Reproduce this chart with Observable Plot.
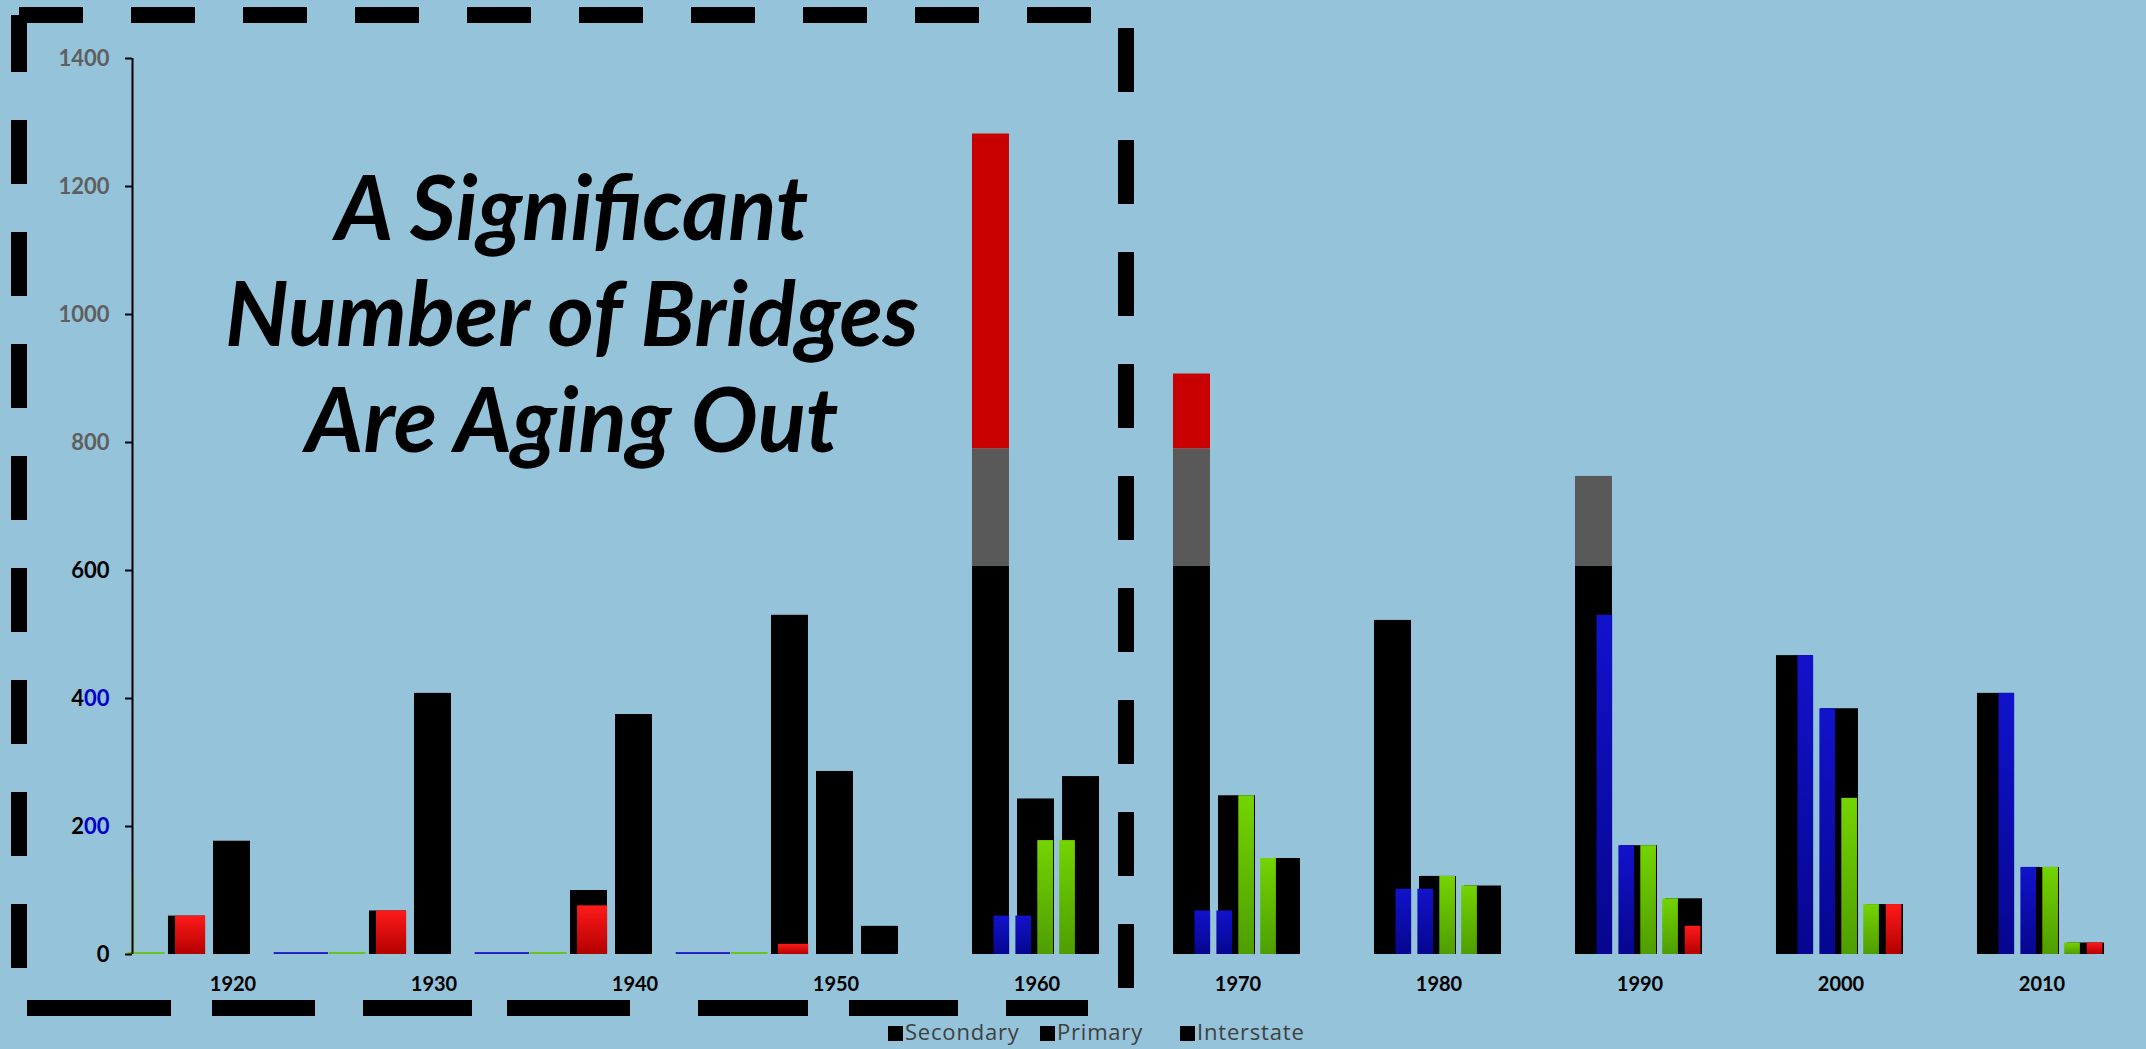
<!DOCTYPE html>
<html>
<head>
<meta charset="utf-8">
<script src="https://cdn.jsdelivr.net/npm/d3@7"></script>
<script src="https://cdn.jsdelivr.net/npm/@observablehq/plot@0.6"></script>
<style>
html, body { margin: 0; padding: 0; background: #94C3DA; width: 2146px; height: 1049px; overflow: hidden; }
#wrap { position: relative; width: 2146px; height: 1049px; }
#chart { position: absolute; left: 0; top: 0; }
#overlay { position: absolute; left: 0; top: 0; pointer-events: none; }
#chart g[aria-label="y-axis tick label"] text { font-size: 22px; font-weight: bold; font-family: Lato, "Open Sans", sans-serif; }
#chart g[aria-label="x-axis tick label"] text { font-size: 20px; font-weight: bold; font-family: Lato, "Open Sans", sans-serif; fill: #000; }
</style>
</head>
<body>
<div id="wrap">
  <div id="chart"></div>
  <svg id="overlay" width="2146" height="1049"></svg>
</div>
<script>
// ---- data ----
const decades = [1920, 1930, 1940, 1950, 1960, 1970, 1980, 1990, 2000, 2010];
const yTicks = [0, 200, 400, 600, 800, 1000, 1200, 1400];

// black clustered bars (legend series)
const secondary    = [60, 68, 100, 530, 607, 607, 522, 607, 467, 408];
const secondaryMid = [0, 0, 0, 0, 183, 183, 0, 140, 0, 0];   // gray segment
const secondaryTop = [0, 0, 0, 0, 492, 117, 0, 0, 0, 0];     // red segment
const primary      = [177, 408, 375, 286, 243, 248, 122, 170, 384, 136];
const interstate   = [0, 0, 0, 44, 278, 150, 107, 87, 78, 18];

// coloured overlay bars
const blueA   = [0, 0, 0, 0, 60, 68, 102, 530, 467, 408];
const blueB   = [0, 0, 0, 0, 60, 68, 102, 170, 384, 136];
const greenA  = [0, 0, 0, 0, 178, 248, 122, 170, 244, 136];
const greenB  = [0, 0, 0, 0, 178, 150, 107, 87, 78, 18];
const redC    = [0, 0, 0, 0, 0, 0, 0, 44, 78, 18];
const redEarly = [60, 68, 76, 16, 0, 0, 0, 0, 0, 0];
const greenSliver = [3, 3, 3, 3, 0, 0, 0, 0, 0, 0];
const greenEdge   = [120, 0, 0, 0, 0, 0, 0, 0, 0, 0];
const blueSliver  = [3, 3, 3, 0, 0, 0, 0, 0, 0, 0];

const titleLines = ["A Significant", "Number of Bridges", "Are Aging Out"];
const legendNames = ["Secondary", "Primary", "Interstate"];

// ---- drawing ----
const idx = decades.map((d, i) => i);
function bars(values, off, w, fill, base) {
  const data = idx.map(i => {
    const b = base ? base[i] : 0;
    return {i, y1: b, y2: b + values[i]};
  }).filter(d => d.y2 > d.y1);
  return Plot.rect(data, {
    x1: d => d.i + off - w / 2,
    x2: d => d.i + off + w / 2,
    y1: "y1", y2: "y2", fill
  });
}
const secMidBase = secondary.map(v => v);
const secTopBase = secondary.map((v, i) => v + secondaryMid[i]);

const defs = () => {
  const svgNS = "http://www.w3.org/2000/svg";
  const g = document.createElementNS(svgNS, "defs");
  g.innerHTML = `
    <linearGradient id="redGrad" x1="0" y1="0" x2="0" y2="1">
      <stop offset="0" stop-color="#FF1A1A"/><stop offset="1" stop-color="#B30000"/>
    </linearGradient>
    <linearGradient id="greenGrad" x1="0" y1="0" x2="0" y2="1">
      <stop offset="0" stop-color="#74D400"/><stop offset="1" stop-color="#4E9E00"/>
    </linearGradient>
    <linearGradient id="blueGrad" x1="0" y1="0" x2="0" y2="1">
      <stop offset="0" stop-color="#1212CC"/><stop offset="1" stop-color="#06068F"/>
    </linearGradient>`;
  return g;
};

const slotW = 0.184, cw = 0.078;
const plot = Plot.plot({
  width: 2146,
  height: 1010,
  marginLeft: 132,
  marginRight: 4,
  marginTop: 58,
  marginBottom: 56,
  style: {background: "transparent", overflow: "visible"},
  x: {type: "linear", domain: [-0.5, 9.5]},
  y: {domain: [0, 1400]},
  marks: [
    defs,
    bars(greenSliver, -0.43, slotW, "#6CC21A"),
    bars(greenEdge, -0.495, 0.012, "#8EDC3A"),
    bars(secondary, -0.229, slotW, "#000000"),
    bars(secondaryMid, -0.229, slotW, "#595959", secMidBase),
    bars(secondaryTop, -0.229, slotW, "#C80000", secTopBase),
    bars(primary, -0.005, slotW, "#000000"),
    bars(interstate, 0.219, slotW, "#000000"),
    bars(blueA, -0.175, cw, "url(#blueGrad)"),
    bars(blueB, -0.066, cw, "url(#blueGrad)"),
    bars(greenA, 0.043, cw, "url(#greenGrad)"),
    bars(greenB, 0.152, cw, "url(#greenGrad)"),
    bars(redC, 0.264, cw, "url(#redGrad)"),
    bars(redEarly, -0.211, 0.150, "url(#redGrad)"),
    bars(blueSliver, 0.34, 0.27, "#2020C0"),
    Plot.ruleX([-0.5], {y1: 0, y2: 1400, stroke: "#000", strokeWidth: 2}),
    Plot.axisY({ticks: yTicks, tickFormat: d => String(d), tickSize: 7, tickPadding: 16, stroke: "#000", strokeWidth: 2}),
    Plot.axisX({ticks: idx, tickFormat: i => String(decades[i]), tickSize: 0, tickPadding: 22})
  ]
});
document.getElementById("chart").appendChild(plot);

// colour the y tick labels like the reference
d3.select(plot).selectAll('g[aria-label="y-axis tick label"] text').each(function () {
  const t = this.textContent.trim();
  const sel = d3.select(this);
  if (t === "400" || t === "200") {
    sel.text(null);
    sel.append("tspan").attr("fill", "#000").text(t[0]);
    sel.append("tspan").attr("fill", "#0000CC").text(t.slice(1));
  } else if (t === "600" || t === "0") {
    sel.attr("fill", "#000");
  } else {
    sel.attr("fill", "#5f5f5f");
  }
});

// decorative dashed frame, title and legend
const ov = d3.select("#overlay");
const dash = "64 48";
ov.append("line").attr("x1", 19).attr("x2", 1091).attr("y1", 15).attr("y2", 15)
  .attr("stroke", "#000").attr("stroke-width", 16).attr("stroke-dasharray", dash);
ov.append("line").attr("x1", 19).attr("x2", 19).attr("y1", 15).attr("y2", 968)
  .attr("stroke", "#000").attr("stroke-width", 16).attr("stroke-dasharray", dash).attr("stroke-dashoffset", 7);
ov.append("line").attr("x1", 1126).attr("x2", 1126).attr("y1", 28).attr("y2", 988)
  .attr("stroke", "#000").attr("stroke-width", 16).attr("stroke-dasharray", dash);
const bottomDashes = [[27, 171], [212, 315], [363, 472], [507, 630], [698, 808], [849, 958], [1006, 1088]];
bottomDashes.forEach(([a, b]) => {
  ov.append("line").attr("x1", a).attr("x2", b).attr("y1", 1008).attr("y2", 1008)
    .attr("stroke", "#000").attr("stroke-width", 16);
});

titleLines.forEach((s, k) => {
  ov.append("text").attr("x", 572).attr("y", 240 + k * 106)
    .attr("text-anchor", "middle")
    .attr("font-family", "Lato, 'Open Sans', sans-serif")
    .attr("font-size", 89).attr("font-weight", "bold").attr("font-style", "italic")
    .attr("fill", "#000").text(s);
});

const legX = [888, 1040, 1180];
legendNames.forEach((s, k) => {
  ov.append("rect").attr("x", legX[k]).attr("y", 1026).attr("width", 15).attr("height", 15).attr("fill", "#000");
  ov.append("text").attr("x", legX[k] + 17).attr("y", 1040)
    .attr("font-family", "'Open Sans', Lato, sans-serif").attr("font-size", 22)
    .attr("letter-spacing", 0.8)
    .attr("fill", "#404040").text(s);
});
</script>
</body>
</html>
